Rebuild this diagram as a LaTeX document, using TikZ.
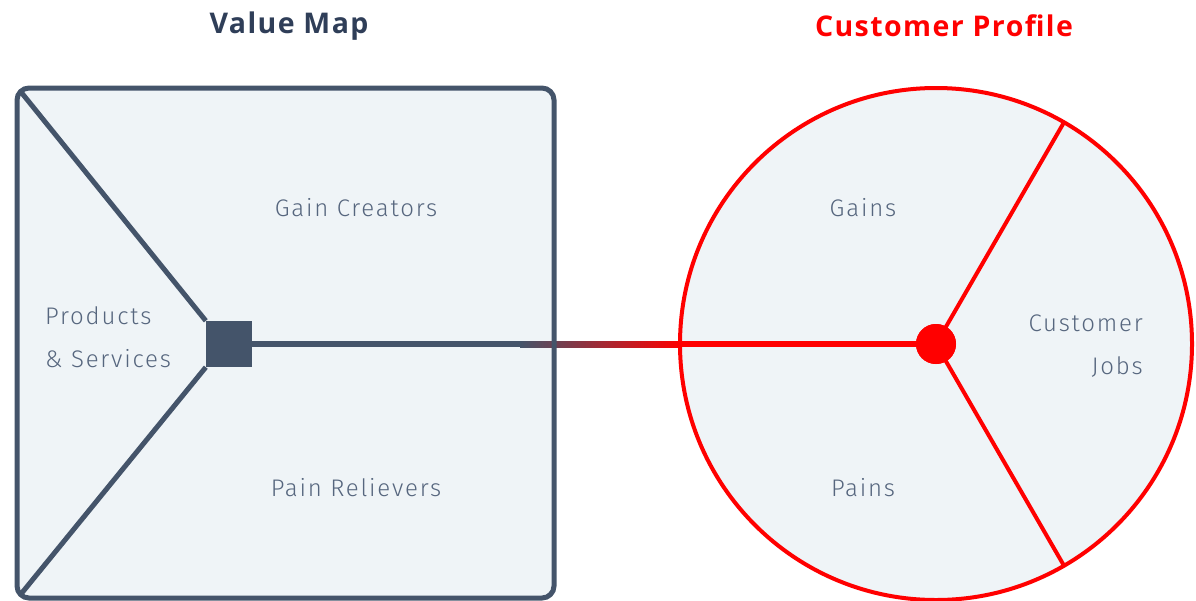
\documentclass[tikz,border=0pt]{standalone}
\usepackage{fontspec}
\setmainfont{Fira Sans}
\newfontfamily\fieldfont[LetterSpace=7.5]{Fira Sans Light}
\newfontfamily\titlefont[LetterSpace=5]{Open Sans}
\usetikzlibrary{positioning}
\definecolor{slate}{HTML}{44546A}
\definecolor{ink}{HTML}{2F3E58}
\definecolor{paper}{HTML}{EFF4F7}
\definecolor{label}{HTML}{56667E}
\definecolor{cpred}{HTML}{FF0000}
\begin{document}
\begin{tikzpicture}[x=1pt,y=-1pt,
    title/.style={font=\titlefont\fontsize{28.5}{32}\selectfont\bfseries},
    field/.style={font=\fieldfont\fontsize{24}{43}\selectfont, text=label, inner sep=0pt}]
	\useasboundingbox (0,0) rectangle (1196,600);
	%Bakgrunn
	\fill [paper, rounded corners=12pt] (17,88) rectangle (554,598);
	\fill [paper] (936,344) circle (256pt);
	\node [fill=slate, minimum size=46pt, inner sep=0pt] (hub) at (229,344) {};
	\node [circle, fill=cpred, minimum size=40pt, inner sep=0pt] (core) at (936,344) {};
	\coordinate (fade) at (520,344);
	\coordinate (glow) at (681,344);
	%Forbindelse
	\draw [slate, line width=6pt] (hub.east) -- (fade);
	\shade [left color=slate, right color=cpred] (520,341) rectangle (681,347);
	\draw [cpred, line width=6pt] (glow) -- (core.center);
	%Value Map
	\draw [slate, line width=5pt, rounded corners=12pt] (17,88) rectangle (554,598);
	\draw [slate, line width=5pt] (21,92) -- (hub.north west);
	\draw [slate, line width=5pt] (21,594) -- (hub.south west);
	%Customer Profile
	\coordinate (rimup) at ([shift={(936,344)}]60:256pt);
	\coordinate (rimdown) at ([shift={(936,344)}]-60:256pt);
	\draw [cpred, line width=4pt] (core.center) -- (rimup);
	\draw [cpred, line width=4pt] (core.center) -- (rimdown);
	\draw [cpred, line width=4pt] (936,344) circle (256pt);
	\node [circle, fill=cpred, minimum size=40pt, inner sep=0pt] at (core) {};
	%Tekst
	\node [title, text=ink] (vm) at (289,26) {Value Map};
	\node [title, text=cpred] (cp) at (944,26) {Customer Profile};
	\node [field] (gc) at (356,208) {Gain Creators};
	\node [field] (pr) at (356,488) {Pain Relievers};
	\node [field, anchor=west, align=left] (ps) at (45,337) {Products\\\& Services};
	\node [field] (gn) at (863,208) {Gains};
	\node [field] (pn) at (863,488) {Pains};
	\node [field, anchor=east, align=right] (cj) at (1143,346) {Customer\\Jobs};
\end{tikzpicture}
\end{document}
